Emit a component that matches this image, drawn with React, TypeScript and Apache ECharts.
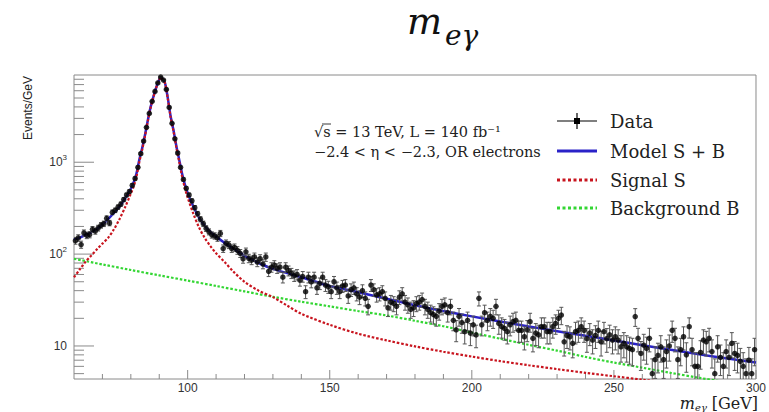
import React, { useEffect, useRef } from 'react';
import * as echarts from 'echarts';

// ---- data: events per GeV in 1 GeV bins from 60 to 300 GeV ----
const binLow = 60;
const binWidth = 1;
const dataValues = [
  140, 150, 127, 170, 160, 163, 186, 178, 192, 206,
  214, 245, 218, 285, 300, 325, 350, 392, 440, 480,
  560, 665, 880, 1240, 1700, 2400, 3400, 4600, 5900, 7300,
  8450, 7850, 6200, 3950, 2650, 1800, 1260, 880, 650, 520,
  440, 380, 320, 275, 240, 214, 190, 175, 162, 158,
  150, 168, 115, 131, 126, 115, 118, 110, 102, 89,
  106, 90, 86, 93, 82, 89, 78, 93, 65, 72,
  76, 70, 72, 56, 72, 66, 62, 58, 60, 52,
  57, 39, 56, 50, 56, 43, 48, 56, 46, 44,
  39, 50, 43, 39, 45, 46, 35, 41, 43, 37,
  34, 40, 33, 27, 46, 41, 36, 37, 39, 33,
  26, 30, 29, 27, 34, 37, 30, 28, 25, 26,
  29, 30, 32, 27, 25, 23, 22, 21, 24, 27,
  28, 23, 27, 19, 15, 21, 18, 14.3, 19, 13.8,
  17, 13.2, 33, 17, 23, 19, 21, 20, 27, 17.6,
  16.2, 15.5, 14.3, 17, 18.4, 19, 14.8, 14.8, 12.6, 15,
  18.4, 12.1, 13.8, 13.2, 16.2, 16.2, 14.3, 14.3, 16.2, 17.6,
  20, 21.7, 11.1, 13, 12.6, 10.7, 14.3, 14.8, 16.2, 14.8,
  12, 13.8, 11.6, 13, 14.8, 11.1, 14.3, 12, 13.2, 11.6,
  12.6, 11.6, 9.8, 10.7, 9.8, 9.4, 9.1, 20.9, 12.1, 8.3,
  10.2, 9.4, 12.1, 5.0, 7.1, 7.9, 9.8, 7.1, 8.7, 10,
  14.8, 12.1, 7.1, 9.1, 12.6, 8, 16.2, 9.1, 6.0, 6.0,
  8.5, 11.6, 11.1, 12.1, 8.7, 5.0, 9.8, 7.5, 6.0, 8.7,
  7.5, 10.7, 8.3, 7.9, 6.8, 6.0, 5.0, 7.0, 5.0, 9.1,
];

// ---- fitted curves ----
const curveMass = [
  60, 62, 64, 66, 68, 70, 72, 74, 76, 78,
  80, 81, 82, 83, 84, 85, 86, 87, 88, 89,
  90, 90.5, 91, 92, 93, 94, 95, 96, 97, 98,
  99, 100, 102, 104, 106, 108, 110, 113, 116, 120,
  125, 130, 135, 140, 150, 160, 170, 180, 190, 200,
  210, 220, 230, 240, 250, 260, 270, 280, 290, 300,
];
const modelValues = [
  145, 151, 162, 172, 188, 210, 240, 280, 330, 405,
  513, 603, 759, 1072, 1429, 1995, 2884, 4027, 5248, 6607,
  7943, 8414, 8222, 7328, 5012, 3162, 2239, 1514, 1072, 759,
  575, 462, 330, 250, 204, 174, 155, 132, 115, 96,
  80, 69, 62, 56, 45, 38.5, 32.7, 27.8, 24, 21,
  18.5, 16.3, 14.5, 12.9, 11.5, 10.2, 9.1, 8.1, 7.3, 6.6,
];
const signalValues = [
  56, 68, 82, 96, 112, 130, 150, 185, 240, 325,
  455, 545, 700, 1010, 1370, 1940, 2820, 3970, 5190, 6550,
  7885, 8355, 8165, 7270, 4955, 3105, 2185, 1460, 1020, 708,
  525, 412, 275, 195, 150, 122, 102, 82, 65, 50,
  40, 34, 27.5, 22.4, 17.0, 13.6, 11.5, 9.9, 8.65, 7.66,
  6.84, 6.17, 5.6, 5.1, 4.68, 4.3, 3.96, 3.67, 3.41, 3.18,
];
const bgMass = [60, 70, 80, 90, 100, 110, 120, 130, 140, 150, 160, 170, 180, 190, 200, 210, 220, 230, 240, 250, 260, 270, 280, 290, 300];
const bgValues = [89, 77.2, 67.2, 58.7, 51.5, 45, 39.3, 34.3, 30.3, 27, 24, 21.5, 18.8, 16.4, 14.0, 12.0, 10.3, 8.9, 7.6, 6.6, 5.8, 5.1, 4.5, 4.0, 3.55];

// ---- axes ----
const xMin = 60;
const xMax = 300;
const yMin = 4.37;
const yMax = 8900;
const xMajorTicks = [100, 150, 200, 250, 300];
const xMinorTicks = [70, 80, 90, 110, 120, 130, 140, 160, 170, 180, 190, 210, 220, 230, 240, 260, 270, 280, 290];
const yMajorTicks = [10, 100, 1000];
const yMinorTicks = [5, 6, 7, 8, 9, 20, 30, 40, 50, 60, 70, 80, 90, 200, 300, 400, 500, 600, 700, 800, 900, 2000, 3000, 4000, 5000, 6000, 7000, 8000];
const yTickLabels: Record<number, string> = { 10: '10', 100: '10{sup|2}', 1000: '10{sup|3}' };

const legendNames = ['Data', 'Model S + B', 'Signal S', 'Background B'];
const annotationLines = ['\u221As = 13 TeV, L = 140 fb\u207B\u00B9', '\u22122.4 < \u03B7 < \u22122.3, OR electrons'];

const C_MODEL = '#2a22c8';
const C_SIG = '#c8141e';
const C_BG = '#33d633';
const C_AXIS = '#8a8a8a';

export default function App() {
  const ref = useRef<HTMLDivElement>(null);
  useEffect(() => {
    document.body.style.margin = '0';
    const chart = echarts.init(ref.current!, null, { renderer: 'svg' });

    const points = dataValues.map((v, i) => [binLow + binWidth * (i + 0.5), v]);
    const errs = dataValues.map((v, i) => [binLow + binWidth * (i + 0.5), v, Math.sqrt(v)]);
    const tickData: number[][] = [];
    xMinorTicks.forEach((v) => tickData.push([v, 10, 0, 5]));
    xMajorTicks.forEach((v) => tickData.push([v, 10, 0, 9]));
    yMinorTicks.forEach((v) => tickData.push([xMin, v, 1, 10]));
    yMajorTicks.forEach((v) => tickData.push([xMin, v, 1, 20]));

    const option: any = {
      animation: false,
      grid: {
        left: 74, right: 10, top: 75, bottom: 33,
        show: true, borderColor: C_AXIS, borderWidth: 1, backgroundColor: 'transparent',
      },
      xAxis: {
        type: 'value', min: xMin, max: xMax, interval: 10,
        axisLine: { show: false }, axisTick: { show: false }, splitLine: { show: false },
        axisLabel: {
          margin: 3, color: '#333', fontFamily: 'Liberation Sans', fontSize: 12,
          formatter: (v: number) => (xMajorTicks.includes(Math.round(v)) ? String(Math.round(v)) : ''),
        },
      },
      yAxis: {
        type: 'log', logBase: 10, min: yMin, max: yMax,
        axisLine: { show: false }, axisTick: { show: false }, splitLine: { show: false },
        axisLabel: {
          margin: 7, color: '#333', fontFamily: 'Liberation Sans', fontSize: 12,
          formatter: (v: number) => {
            const k = Object.keys(yTickLabels).map(Number).find((t) => Math.abs(t - v) / t < 1e-6);
            return k ? yTickLabels[k] : '';
          },
          rich: { sup: { fontSize: 8, fontFamily: 'Liberation Sans', color: '#333', padding: [0, 0, 9, 0] } },
        },
      },
      series: [
        {
          type: 'custom', name: 'ticks', silent: true, z: 1, clip: false,
          data: tickData,
          renderItem: (params: any, api: any) => {
            const p = api.coord([api.value(0), api.value(1)]);
            const kind = api.value(2);
            const len = api.value(3);
            const cs = params.coordSys;
            if (kind === 0) {
              const b = cs.y + cs.height;
              return { type: 'line', shape: { x1: p[0], y1: b, x2: p[0], y2: b - len }, style: { stroke: C_AXIS, lineWidth: 1 } };
            }
            return { type: 'line', shape: { x1: cs.x, y1: p[1], x2: cs.x + len, y2: p[1] }, style: { stroke: C_AXIS, lineWidth: 1 } };
          },
        },
        {
          type: 'line', name: legendNames[3], z: 2, showSymbol: false, smooth: 0.3,
          data: bgMass.map((m, i) => [m, bgValues[i]]),
          lineStyle: { color: C_BG, width: 2.2, type: [2.5, 1.8] },
        },
        {
          type: 'line', name: legendNames[1], z: 3, showSymbol: false, smooth: 0.3,
          data: curveMass.map((m, i) => [m, modelValues[i]]),
          lineStyle: { color: C_MODEL, width: 2.5 },
        },
        {
          type: 'line', name: legendNames[2], z: 4, showSymbol: false, smooth: 0.3,
          data: curveMass.map((m, i) => [m, signalValues[i]]),
          lineStyle: { color: C_SIG, width: 2.2, type: [2.5, 1.8] },
        },
        {
          type: 'custom', name: 'errors', silent: true, z: 5, clip: true,
          data: errs,
          renderItem: (params: any, api: any) => {
            const x = api.value(0), y = api.value(1), e = api.value(2);
            const cs = params.coordSys;
            const top = api.coord([x, y + e]);
            const bot = api.coord([x, Math.max(y - e, 0.01)]);
            const yTop = Math.max(top[1], cs.y);
            const yBot = Math.min(bot[1], cs.y + cs.height);
            const st = { stroke: '#555', lineWidth: 1 };
            const children: any[] = [
              { type: 'line', shape: { x1: top[0], y1: yTop, x2: top[0], y2: yBot }, style: st },
            ];
            if (top[1] >= cs.y) children.push({ type: 'line', shape: { x1: top[0] - 2, y1: top[1], x2: top[0] + 2, y2: top[1] }, style: st });
            if (bot[1] <= cs.y + cs.height) children.push({ type: 'line', shape: { x1: bot[0] - 2, y1: bot[1], x2: bot[0] + 2, y2: bot[1] }, style: st });
            return { type: 'group', children };
          },
        },
        {
          type: 'scatter', name: legendNames[0], z: 6, symbol: 'circle', symbolSize: 5.5,
          data: points, itemStyle: { color: '#000' },
        },
      ],
      graphic: [
        // title
        { type: 'text', x: 407, y: 21, style: { text: 'm', font: 'italic 37px "DejaVu Serif"', fill: '#111', align: 'left', verticalAlign: 'middle' } },
        { type: 'text', x: 445, y: 35, style: { text: 'e\u03B3', font: 'italic 28px "DejaVu Serif"', fill: '#111', align: 'left', verticalAlign: 'middle' } },
        // y axis title
        { type: 'text', x: 28, y: 140, rotation: Math.PI / 2, style: { text: 'Events/GeV', font: '12px "Liberation Sans"', fill: '#222', align: 'left', verticalAlign: 'middle' } },
        // x axis title
        { type: 'text', x: 758, y: 403, style: { text: '[GeV]', font: '16px "DejaVu Serif"', fill: '#222', align: 'right', verticalAlign: 'middle' } },
        { type: 'text', x: 707, y: 407, style: { text: 'e\u03B3', font: 'italic 10px "DejaVu Serif"', fill: '#222', align: 'right', verticalAlign: 'middle' } },
        { type: 'text', x: 695, y: 403, style: { text: 'm', font: 'italic 16px "DejaVu Serif"', fill: '#222', align: 'right', verticalAlign: 'middle' } },
        // annotation
        { type: 'text', x: 314, y: 132, style: { text: annotationLines[0], font: '14.5px "DejaVu Serif"', fill: '#222', align: 'left', verticalAlign: 'middle' } },
        { type: 'line', shape: { x1: 322, y1: 124, x2: 331, y2: 124 }, style: { stroke: '#222', lineWidth: 0.9 } },
        { type: 'text', x: 314, y: 152, style: { text: annotationLines[1], font: '14.5px "DejaVu Serif"', fill: '#222', align: 'left', verticalAlign: 'middle' } },
        // legend
        { type: 'line', shape: { x1: 557, y1: 121, x2: 597, y2: 121 }, style: { stroke: '#000', lineWidth: 1.2 } },
        { type: 'line', shape: { x1: 577, y1: 113, x2: 577, y2: 129 }, style: { stroke: '#000', lineWidth: 1.2 } },
        { type: 'rect', shape: { x: 574, y: 118, width: 6, height: 6 }, style: { fill: '#000' } },
        { type: 'text', x: 610, y: 121, style: { text: legendNames[0], font: '18px "DejaVu Serif"', fill: '#222', align: 'left', verticalAlign: 'middle' } },
        { type: 'line', shape: { x1: 557, y1: 151, x2: 597, y2: 151 }, style: { stroke: C_MODEL, lineWidth: 3 } },
        { type: 'text', x: 610, y: 151, style: { text: legendNames[1], font: '18px "DejaVu Serif"', fill: '#222', align: 'left', verticalAlign: 'middle' } },
        { type: 'line', shape: { x1: 557, y1: 180, x2: 597, y2: 180 }, style: { stroke: C_SIG, lineWidth: 3, lineDash: [3, 2.5] } },
        { type: 'text', x: 610, y: 180, style: { text: legendNames[2], font: '18px "DejaVu Serif"', fill: '#222', align: 'left', verticalAlign: 'middle' } },
        { type: 'line', shape: { x1: 557, y1: 208, x2: 597, y2: 208 }, style: { stroke: C_BG, lineWidth: 3, lineDash: [3, 2.5] } },
        { type: 'text', x: 610, y: 208, style: { text: legendNames[3], font: '18px "DejaVu Serif"', fill: '#222', align: 'left', verticalAlign: 'middle' } },
      ],
    };
    chart.setOption(option);
    return () => chart.dispose();
  }, []);
  return <div ref={ref} style={{ width: 769, height: 412 }} />;
}
